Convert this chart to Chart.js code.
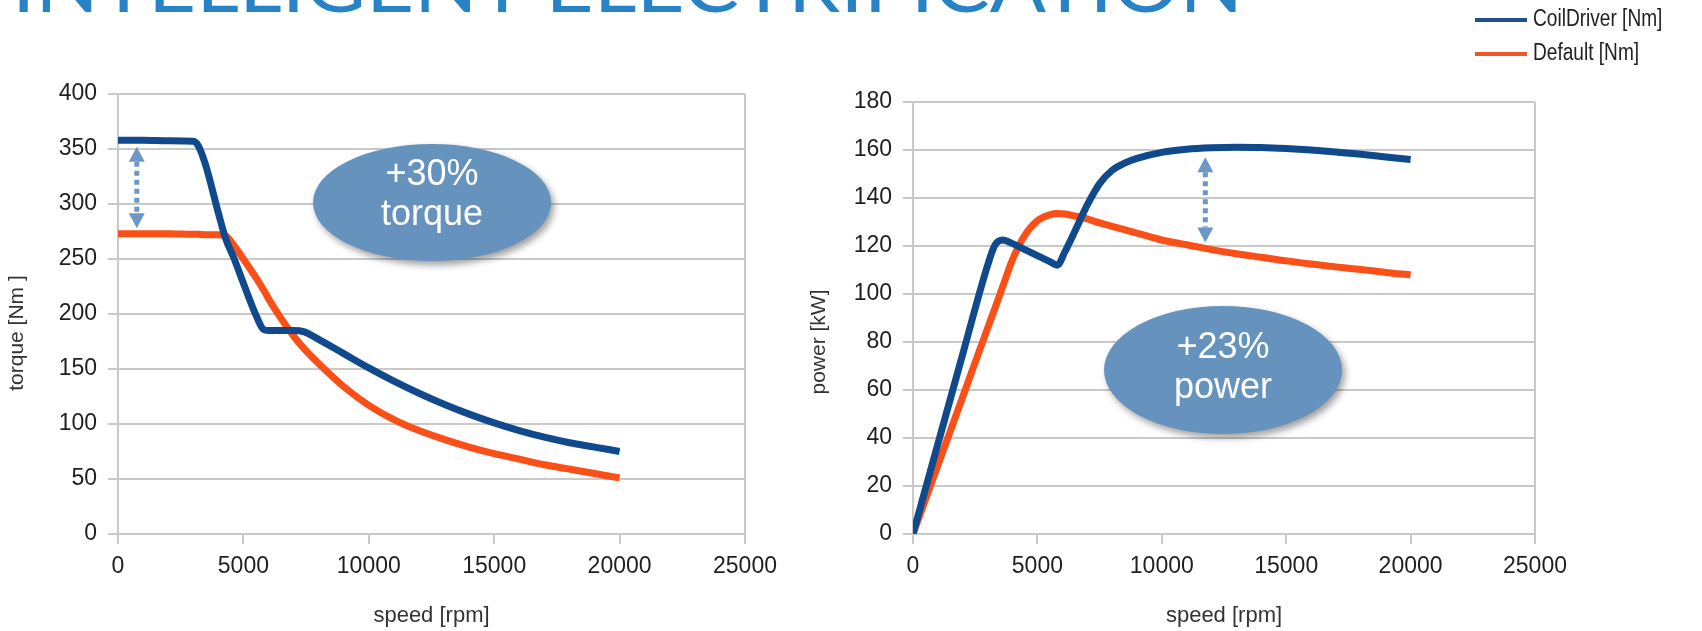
<!DOCTYPE html>
<html lang="en">
<head>
    <meta charset="UTF-8">
    <title>CoilDriver torque and power</title>
    <style>
        body { margin: 0; background: #fff; }
        #page { position: relative; width: 1702px; height: 631px; overflow: hidden; background: #fff; }
        canvas { position: absolute; top: 0; }
        #torqueChart { left: 0; }
        #powerChart { left: 790px; }
        .bubble {
            position: absolute; width: 238px; box-sizing: border-box; border-radius: 50%;
            background: #6593be; color: #fff; box-shadow: 3px 4px 7px rgba(0,0,0,0.38);
            display: flex; flex-direction: column; align-items: center; justify-content: center; text-align: center;
            font-family: "Liberation Sans", Arial, sans-serif; font-size: 36px; line-height: 40px;
        }
        .legend { position: absolute; left: 1475px; font-family: "Liberation Sans", Arial, sans-serif; font-size: 23px; color: #222; white-space: nowrap; }
        .legend .line { display: inline-block; width: 52px; height: 4px; vertical-align: middle; margin-right: 6px; }
        .legend .label { display: inline-block; transform: scaleX(0.83); transform-origin: left center; }
    </style>
</head>
<body>
<div id="page">
    <svg style="position:absolute;left:0;top:0" width="1300" height="24">
        <text x="12" y="12" textLength="1231" lengthAdjust="spacingAndGlyphs"
              font-family="Lato" font-size="76" fill="#2783c6">INTELLIGENT ELECTRIFICATION</text>
    </svg>

    <canvas id="torqueChart" width="790" height="631"></canvas>
    <canvas id="powerChart" width="912" height="631"></canvas>

    <div class="legend" style="top:5px"><span class="line" style="background:#1f4f8d"></span><span class="label">CoilDriver [Nm]</span></div>
    <div class="legend" style="top:39px"><span class="line" style="background:#f2552a"></span><span class="label">Default [Nm]</span></div>

    <div class="bubble" style="left:313px; top:144px; height:117px; padding-bottom:19px">+30%<br>torque</div>
    <div class="bubble" style="left:1104px; top:306px; height:128px; padding-bottom:9px">+23%<br>power</div>
</div>

<script src="https://cdn.jsdelivr.net/npm/chart.js"></script>
<script>
    // torque chart: speed [rpm] -> torque [Nm]
    const torqueSpeed = [0, 1000, 2000, 3000, 3200, 3500, 4000, 4300, 4600, 5000, 5500, 5800, 6000, 6500, 7000, 7400,
                         8000, 9000, 10000, 11000, 12000, 13000, 14000, 15000, 16000, 17000, 18000, 19000, 20000]
    const torqueCoil = [358, 358, 357.5, 357, 353, 335, 292, 268, 252, 228, 199, 186, 185, 185, 185, 184,
                        177, 164, 151, 139, 128, 118, 109, 101, 94, 88, 83, 79, 75]
    const torqueDefault = [273, 273, 273, 272.5, 272.5, 272, 272, 271, 263, 250, 233, 222, 214, 196, 180, 169,
                           155, 134, 117, 104, 94, 86, 79, 73, 68, 63, 59, 55, 51]

    // power chart: speed [rpm] -> power [kW]
    const powerSpeed = [0, 1000, 2000, 3000, 3300, 3600, 4000, 4500, 5000, 5500, 5800, 6100, 6500, 7000, 7500,
                        8000, 8500, 9000, 10000, 11000, 12000, 13000, 14000, 15000, 16000, 17000, 18000, 19000, 20000]
    const powerCoil = [0, 37.5, 75, 112, 120.5, 122.5, 121, 118.5, 116, 113.5, 112, 117.5, 126, 137, 146,
                       151.5, 154.5, 156.5, 159, 160.3, 160.9, 161.1, 161, 160.6, 160, 159.2, 158.2, 157.1, 156]
    const powerDefault = [0, 28.6, 57.2, 85.8, 94.3, 102.9, 114.3, 124.5, 130.5, 133, 133.5, 133.3, 132.5, 131.3, 129.6,
                          128.2, 126.8, 125.4, 122.5, 120.5, 118.5, 116.8, 115.3, 113.8, 112.5, 111.3, 110.2, 109, 108]

    const seriesNames = ['CoilDriver [Nm]', 'Default [Nm]']
    const xTicks = [0, 5000, 10000, 15000, 20000, 25000]

    const gridGray = '#c9c9c9'
    const font = { family: '"Liberation Sans", Arial, sans-serif' }

    // dashed double arrow showing the gap between the two curves
    const gapArrow = {
        id: 'gapArrow',
        afterDatasetsDraw(chart, args, opts) {
            const { ctx, scales: { x, y } } = chart
            const px = x.getPixelForValue(opts.at)
            const top = y.getPixelForValue(opts.from)
            const bottom = y.getPixelForValue(opts.to)
            const head = 15, half = 8
            ctx.save()
            ctx.strokeStyle = '#6b98c7'
            ctx.fillStyle = '#6b98c7'
            ctx.lineWidth = 5
            ctx.setLineDash([5, 4])
            ctx.beginPath()
            ctx.moveTo(px, top + head)
            ctx.lineTo(px, bottom - head)
            ctx.stroke()
            ctx.beginPath()
            ctx.moveTo(px, top); ctx.lineTo(px - half, top + head); ctx.lineTo(px + half, top + head)
            ctx.closePath(); ctx.fill()
            ctx.beginPath()
            ctx.moveTo(px, bottom); ctx.lineTo(px - half, bottom - head); ctx.lineTo(px + half, bottom - head)
            ctx.closePath(); ctx.fill()
            ctx.restore()
        }
    }

    // rotated y axis title, placed a little below the middle like in the original
    const yTitle = {
        id: 'yTitle',
        afterDraw(chart, args, opts) {
            const ctx = chart.ctx
            ctx.save()
            ctx.translate(opts.x, opts.y)
            ctx.rotate(-Math.PI / 2)
            ctx.font = '21px "Liberation Sans", Arial, sans-serif'
            ctx.fillStyle = '#333'
            ctx.textAlign = 'center'
            ctx.textBaseline = 'middle'
            ctx.fillText(opts.text, 0, 0)
            ctx.restore()
        }
    }

    function points(xs, ys) {
        return xs.map((v, i) => ({ x: v, y: ys[i] }))
    }

    function makeChart(id, opts) {
        return new Chart(document.getElementById(id), {
            type: 'line',
            data: {
                datasets: [
                    { label: seriesNames[0], data: points(opts.speed, opts.coil), borderColor: '#104a8c', borderWidth: 7 },
                    { label: seriesNames[1], data: points(opts.speed, opts.def), borderColor: '#fa4f17', borderWidth: 7 }
                ]
            },
            options: {
                responsive: false,
                animation: false,
                cubicInterpolationMode: 'monotone',
                elements: { point: { radius: 0 } },
                layout: { padding: opts.padding },
                plugins: {
                    legend: { display: false },
                    tooltip: { enabled: false },
                    gapArrow: opts.arrow,
                    yTitle: opts.yTitle
                },
                scales: {
                    x: {
                        type: 'linear', min: 0, max: 25000,
                        afterBuildTicks: s => { s.ticks = xTicks.map(v => ({ value: v })) },
                        afterFit: s => { s.height = 97 },
                        ticks: { font: { ...font, size: 23 }, color: '#1e1e1e', padding: 9, maxRotation: 0, callback: v => String(v) },
                        grid: {
                            color: c => (c.tick && c.tick.value === 25000) ? gridGray : 'transparent',
                            tickColor: gridGray, tickLength: 10, lineWidth: 2
                        },
                        border: { color: gridGray, width: 2 },
                        title: { display: true, text: 'speed [rpm]', font: { ...font, size: 22 }, color: '#333', padding: { top: 4, bottom: 2 } }
                    },
                    y: {
                        min: 0, max: opts.yMax,
                        afterFit: s => { s.width = opts.yWidth },
                        ticks: { stepSize: opts.yStep, font: { ...font, size: 23 }, color: '#1e1e1e', padding: 11 },
                        grid: { color: gridGray, tickColor: gridGray, tickLength: 10, lineWidth: 2 },
                        border: { color: gridGray, width: 2 }
                    }
                }
            },
            plugins: [gapArrow, yTitle]
        })
    }

    makeChart('torqueChart', {
        speed: torqueSpeed, coil: torqueCoil, def: torqueDefault,
        yMax: 400, yStep: 50, yWidth: 118,
        yTitle: { text: 'torque [Nm ]', x: 17, y: 333 },
        padding: { top: 94, right: 45, bottom: 0, left: 0 },
        arrow: { at: 750, from: 352, to: 278 }
    })

    makeChart('powerChart', {
        speed: powerSpeed, coil: powerCoil, def: powerDefault,
        yMax: 180, yStep: 20, yWidth: 123,
        yTitle: { text: 'power [kW]', x: 29, y: 342 },
        padding: { top: 102, right: 167, bottom: 0, left: 0 },
        arrow: { at: 11750, from: 157, to: 121.5 }
    })
</script>
</body>
</html>
